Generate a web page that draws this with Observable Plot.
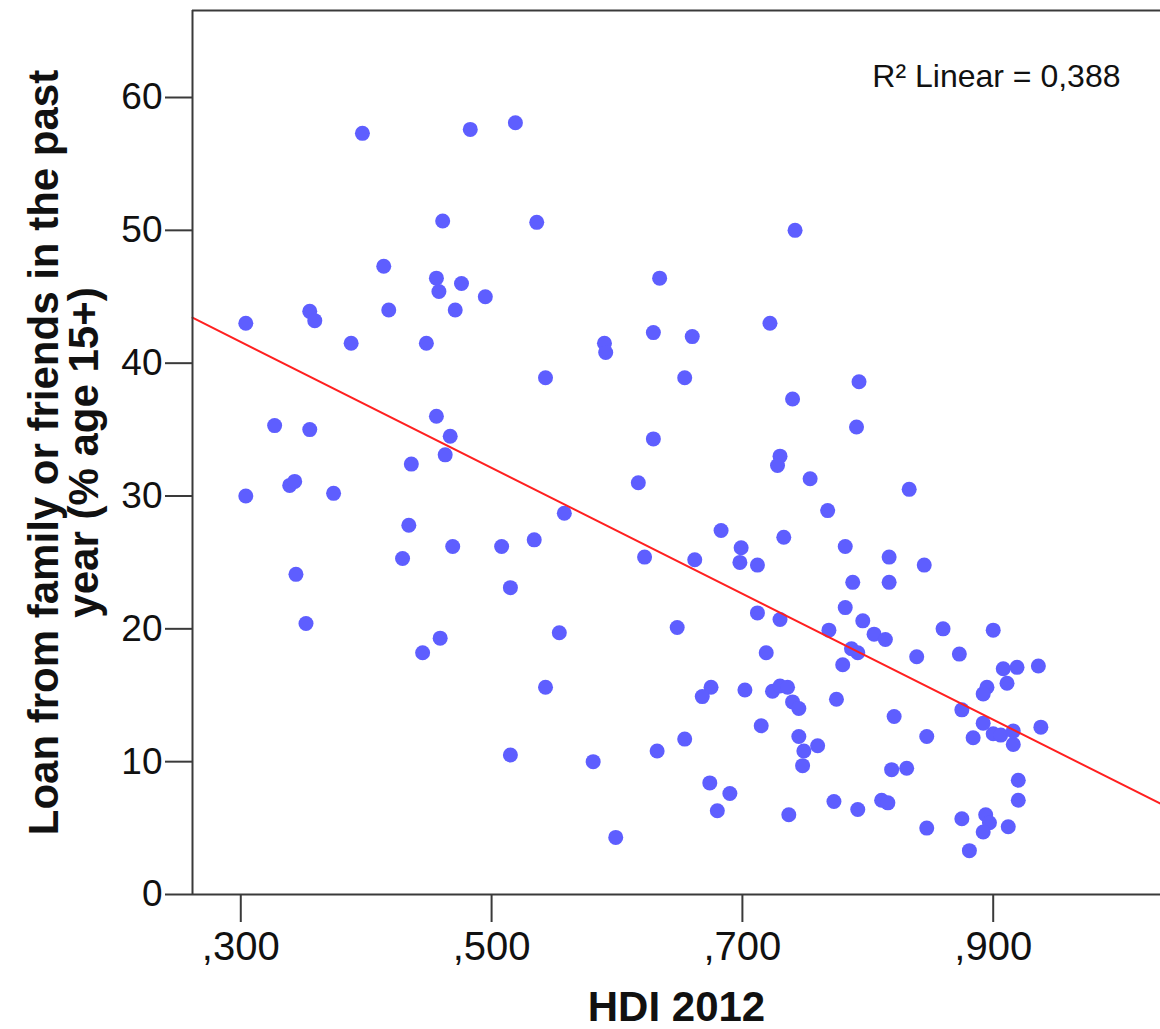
<!DOCTYPE html>
<html>
<head>
<meta charset="utf-8">
<script src="https://cdn.jsdelivr.net/npm/d3@7"></script>
<script src="https://cdn.jsdelivr.net/npm/@observablehq/plot@0.6"></script>
<style>
  html, body { margin: 0; padding: 0; background: #fff; }
  #chart svg { display: block; }
</style>
</head>
<body>
<div id="chart"></div>
<script>
// HDI 2012 (x) for each country
const hdi = [
  0.397, 0.483, 0.519, 0.461, 0.414, 0.456, 0.458, 0.476, 0.495, 0.471,
  0.355, 0.359, 0.418, 0.304, 0.388, 0.448, 0.536, 0.742, 0.634, 0.629,
  0.660, 0.722, 0.590, 0.591, 0.456, 0.467, 0.463, 0.327, 0.355, 0.436,
  0.339, 0.343, 0.304, 0.374, 0.434, 0.469, 0.508, 0.429, 0.515, 0.344,
  0.352, 0.459, 0.445, 0.543, 0.654, 0.740, 0.629, 0.730, 0.728, 0.754,
  0.617, 0.768, 0.558, 0.534, 0.683, 0.699, 0.698, 0.712, 0.733, 0.622,
  0.662, 0.712, 0.730, 0.648, 0.554, 0.793, 0.791, 0.833, 0.782, 0.817,
  0.845, 0.788, 0.817, 0.782, 0.796, 0.769, 0.805, 0.814, 0.860, 0.900,
  0.787, 0.792, 0.515, 0.719, 0.543, 0.675, 0.668, 0.702, 0.724, 0.730,
  0.736, 0.740, 0.745, 0.715, 0.745, 0.760, 0.749, 0.748, 0.581, 0.632,
  0.654, 0.674, 0.690, 0.680, 0.737, 0.599, 0.775, 0.780, 0.839, 0.873,
  0.908, 0.919, 0.936, 0.911, 0.895, 0.892, 0.821, 0.875, 0.892, 0.900,
  0.906, 0.916, 0.916, 0.938, 0.884, 0.847, 0.819, 0.831, 0.920, 0.920,
  0.773, 0.792, 0.811, 0.816, 0.875, 0.894, 0.897, 0.892, 0.912, 0.847,
  0.881
];
// Loan from family or friends in the past year (% age 15+)
const loanPct = [
  57.3, 57.6, 58.1, 50.7, 47.3, 46.4, 45.4, 46.0, 45.0, 44.0,
  43.9, 43.2, 44.0, 43.0, 41.5, 41.5, 50.6, 50.0, 46.4, 42.3,
  42.0, 43.0, 41.5, 40.8, 36.0, 34.5, 33.1, 35.3, 35.0, 32.4,
  30.8, 31.1, 30.0, 30.2, 27.8, 26.2, 26.2, 25.3, 23.1, 24.1,
  20.4, 19.3, 18.2, 38.9, 38.9, 37.3, 34.3, 33.0, 32.3, 31.3,
  31.0, 28.9, 28.7, 26.7, 27.4, 26.1, 25.0, 24.8, 26.9, 25.4,
  25.2, 21.2, 20.7, 20.1, 19.7, 38.6, 35.2, 30.5, 26.2, 25.4,
  24.8, 23.5, 23.5, 21.6, 20.6, 19.9, 19.6, 19.2, 20.0, 19.9,
  18.5, 18.2, 10.5, 18.2, 15.6, 15.6, 14.9, 15.4, 15.3, 15.7,
  15.6, 14.5, 14.0, 12.7, 11.9, 11.2, 10.8, 9.7, 10.0, 10.8,
  11.7, 8.4, 7.6, 6.3, 6.0, 4.3, 14.7, 17.3, 17.9, 18.1,
  17.0, 17.1, 17.2, 15.9, 15.6, 15.1, 13.4, 13.9, 12.9, 12.1,
  12.0, 12.3, 11.3, 12.6, 11.8, 11.9, 9.4, 9.5, 8.6, 7.1,
  7.0, 6.4, 7.1, 6.9, 5.7, 6.0, 5.4, 4.7, 5.1, 5.0,
  3.3
];

const xTicks = [0.3, 0.5, 0.7, 0.9];
const yTicks = [0, 10, 20, 30, 40, 50, 60];
const xDomain = [0.2615, 1.0334];
const yDomain = [0, 66.55];

// Linear fit shown in the reference
const fitIntercept = 55.82;
const fitSlope = -47.40;
const rSquaredLabel = "R² Linear = 0,388";

const xTitle = "HDI 2012";
const yTitle = "Loan from family or friends in the past\nyear (% age 15+)";

const points = hdi.map((h, i) => ({ hdi: h, loan: loanPct[i] }));
const fitLine = xDomain.map(x => ({ hdi: x, loan: fitIntercept + fitSlope * x }));

const font = "'Liberation Sans', Arial, Helvetica, sans-serif";
const axisColor = "#3a3a3a";
const fmtX = d => d3.format(".3f")(d).replace(/^0\./, ",");

const chart = Plot.plot({
  width: 1160,
  height: 1029,
  marginLeft: 192,
  marginRight: 0,
  marginTop: 10,
  marginBottom: 135,
  style: { fontFamily: font, background: "#fff", color: "#111", overflow: "visible" },
  x: { domain: xDomain, label: null },
  y: { domain: yDomain, label: null },
  marks: [
    Plot.dot(points, { x: "hdi", y: "loan", r: 7.5, fill: "#5e5eff", stroke: "none" }),
    Plot.line(fitLine, { x: "hdi", y: "loan", stroke: "#ff2020", strokeWidth: 2 }),
    Plot.ruleX([xDomain[0]], { stroke: axisColor, strokeWidth: 2 }),
    Plot.ruleY([yDomain[1]], { stroke: axisColor, strokeWidth: 2 }),
    Plot.ruleY([yDomain[0]], { stroke: axisColor, strokeWidth: 2 }),
    Plot.axisX(xTicks, { tickSize: 28, tickPadding: 9, fontSize: 40, tickFormat: fmtX, stroke: axisColor, strokeWidth: 2, label: null }),
    Plot.axisY(yTicks, { tickSize: 27, tickPadding: 3, fontSize: 37, stroke: axisColor, strokeWidth: 2, label: null }),
    Plot.text([xTitle], { text: d => d, frameAnchor: "bottom", textAnchor: "middle", lineAnchor: "bottom", dy: 126, fontSize: 42, fontWeight: "bold" }),
    Plot.text([yTitle], { text: d => d, frameAnchor: "left", textAnchor: "middle", lineAnchor: "middle", rotate: -90, dx: -127, fontSize: 42, fontWeight: "bold", lineHeight: 0.95 }),
    Plot.text([rSquaredLabel], { text: d => d, frameAnchor: "top-right", textAnchor: "end", lineAnchor: "bottom", dx: -40, dy: 76, fontSize: 32 })
  ]
});

document.getElementById("chart").appendChild(chart);
</script>
</body>
</html>
